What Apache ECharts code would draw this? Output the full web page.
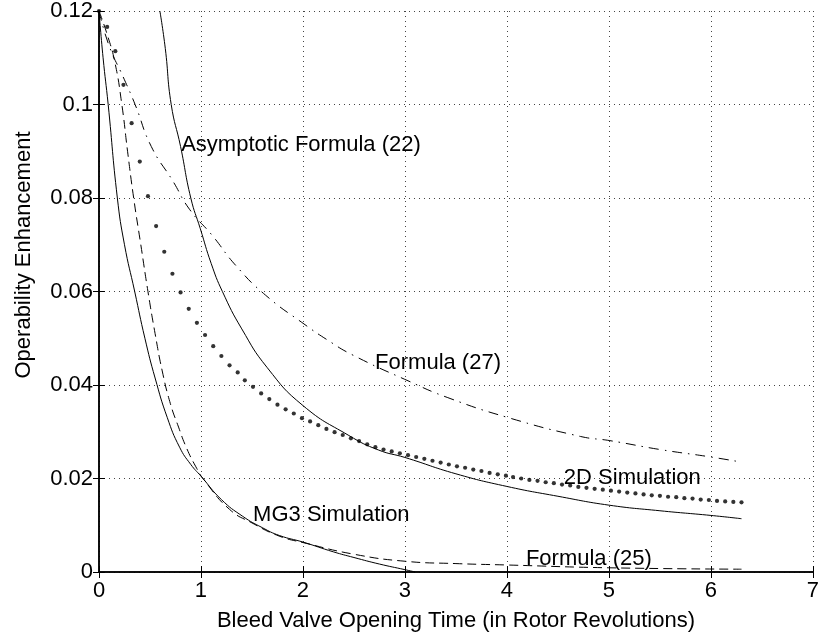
<!DOCTYPE html>
<html>
<head>
<meta charset="utf-8">
<script src="https://cdn.jsdelivr.net/npm/echarts@6/dist/echarts.min.js"></script>
<style>
html,body{margin:0;padding:0;background:#fff;}
#chart{width:822px;height:637px;}
</style>
</head>
<body>
<div id="chart"></div>
<script>
// ---- data ----
const xTicks = [0, 1, 2, 3, 4, 5, 6, 7];
const yTicks = [0, 0.02, 0.04, 0.06, 0.08, 0.1, 0.12];

// MG3 Simulation (solid)
const mg3X = [0, 0.04, 0.09, 0.18, 0.25, 0.35, 0.45, 0.55, 0.67, 0.79, 0.9, 1.0, 1.2, 1.41, 1.6, 1.77, 2.0, 2.3, 2.5, 2.75, 3.0, 3.1];
const mg3Y = [0.12, 0.11, 0.1, 0.08, 0.07, 0.06, 0.05, 0.0415, 0.033, 0.0267, 0.023, 0.0205, 0.0155, 0.0119, 0.0095, 0.0078, 0.0064, 0.0043, 0.0031, 0.0017, 0.0005, 0];

// Formula (25) (dashed)
const f25X = [0, 0.08, 0.156, 0.224, 0.28, 0.34, 0.41, 0.48, 0.55, 0.62, 0.7, 0.78, 0.855, 0.95, 1.03, 1.28, 1.5, 1.765, 2.0, 2.5, 3.0, 3.5, 4.0, 5.0, 6.3];
const f25Y = [0.12, 0.115, 0.109, 0.1, 0.09, 0.08, 0.07, 0.06, 0.051, 0.043, 0.036, 0.031, 0.0267, 0.0225, 0.0197, 0.0134, 0.0105, 0.0077, 0.0063, 0.0038, 0.0023, 0.0018, 0.0015, 0.0009, 0.0006];

// 2D Simulation (dots)
const sim2dX = [0.00,0.08,0.16,0.24,0.32,0.40,0.48,0.56,0.64,0.72,0.80,0.88,0.96,1.04,1.12,1.20,1.28,1.36,1.43,1.51,1.59,1.67,1.75,1.83,1.91,1.99,2.07,2.15,2.23,2.31,2.39,2.47,2.55,2.63,2.71,2.79,2.87,2.95,3.03,3.11,3.19,3.27,3.35,3.43,3.51,3.59,3.67,3.75,3.83,3.91,3.99,4.06,4.14,4.22,4.30,4.38,4.46,4.54,4.62,4.70,4.78,4.86,4.94,5.02,5.10,5.18,5.26,5.34,5.42,5.50,5.58,5.66,5.74,5.82,5.90,5.98,6.06,6.14,6.22,6.30];
const sim2dY = [0.12,0.1166,0.1114,0.1042,0.096,0.0878,0.0804,0.074,0.0685,0.0638,0.0598,0.0563,0.0533,0.0507,0.0483,0.0462,0.0442,0.0427,0.041,0.0396,0.0382,0.037,0.0358,0.0348,0.0339,0.0329,0.0322,0.0314,0.0306,0.0299,0.0293,0.0286,0.028,0.0273,0.0267,0.0262,0.0258,0.0254,0.0250,0.0246,0.0242,0.0238,0.0234,0.0230,0.0226,0.0223,0.0219,0.0216,0.0212,0.0209,0.0206,0.0203,0.0200,0.0197,0.0195,0.0192,0.0190,0.0187,0.0185,0.0182,0.0180,0.0178,0.0176,0.0174,0.0172,0.0170,0.0168,0.0166,0.0164,0.0163,0.0161,0.0160,0.0158,0.0157,0.0155,0.0154,0.0152,0.0151,0.0150,0.0149];

// Asymptotic Formula (22) (solid)
const asymX = [0.597, 0.65, 0.708, 0.8, 0.9, 0.994, 1.1, 1.21, 1.4, 1.65, 2.0, 2.45, 2.74, 3.0, 3.5, 4.0, 4.5, 5.0, 5.5, 6.0, 6.3];
const asymY = [0.12, 0.112, 0.1, 0.091, 0.08, 0.0734, 0.066, 0.06, 0.052, 0.0437, 0.0356, 0.0292, 0.0261, 0.0245, 0.021, 0.0183, 0.0162, 0.0143, 0.0131, 0.0121, 0.0114];

// Formula (27) (dash-dot)
const f27X = [0, 0.1, 0.237, 0.354, 0.513, 0.725, 0.887, 1.114, 1.34, 1.634, 2.02, 2.235, 2.48, 3.03, 3.42, 4.0, 4.72, 5.01, 5.5, 6.0, 6.3];
const f27Y = [0.12, 0.1125, 0.1059, 0.1, 0.091, 0.0836, 0.0776, 0.0719, 0.0656, 0.0592, 0.0529, 0.0497, 0.0465, 0.0409, 0.0373, 0.0331, 0.029, 0.0281, 0.0262, 0.0246, 0.0235];

// text annotations (left edge, text middle) in data units
const annText = ['Asymptotic Formula (22)', 'Formula (27)', '2D Simulation', 'MG3 Simulation', 'Formula (25)'];
const annX = [0.806, 2.707, 4.558, 1.511, 4.186];
const annY = [0.0914, 0.0448, 0.0201, 0.0123, 0.00276];

const xLabel = 'Bleed Valve Opening Time (in Rotor Revolutions)';
const yLabel = 'Operability Enhancement';

// ---- chart ----
const FONT = "'Liberation Sans', Arial, Helvetica, sans-serif";
const FS = 22;
const zip = (a, b) => a.map((v, i) => [v, b[i]]);

const chart = echarts.init(document.getElementById('chart'), null, {renderer: 'canvas'});

const gridLine = {show: true, lineStyle: {color: '#444', width: 1, type: [1, 4]}};
const axisLineStyle = {show: true, lineStyle: {color: '#000', width: 1.5}};
const tickStyle = {show: true, inside: true, length: 6, lineStyle: {color: '#000', width: 1}};
const curve = {type: 'line', showSymbol: false, smooth: 0.5, clip: true};

const option = {
  animation: false,
  backgroundColor: '#fff',
  grid: {left: 99, right: 5, top: 10, bottom: 61, containLabel: false},
  xAxis: [{
    type: 'value', min: xTicks[0], max: xTicks[xTicks.length - 1], interval: 1,
    axisLine: axisLineStyle, axisTick: tickStyle, splitLine: gridLine,
    axisLabel: {color: '#000', fontSize: FS, fontFamily: FONT, margin: 8},
    name: xLabel, nameLocation: 'middle', nameGap: 38,
    nameTextStyle: {color: '#000', fontSize: FS, fontFamily: FONT}
  }, {
    type: 'value', position: 'top', min: 0, max: 7, interval: 1,
    axisLine: axisLineStyle, axisTick: tickStyle, splitLine: {show: false},
    axisLabel: {show: false}
  }],
  yAxis: [{
    type: 'value', min: yTicks[0], max: yTicks[yTicks.length - 1], interval: 0.02,
    axisLine: axisLineStyle, axisTick: tickStyle, splitLine: gridLine,
    axisLabel: {color: '#000', fontSize: FS, fontFamily: FONT, margin: 6,
      formatter: v => String(+v.toFixed(2))}
  }, {
    type: 'value', position: 'right', min: 0, max: 0.12, interval: 0.02,
    axisLine: axisLineStyle, axisTick: tickStyle, splitLine: {show: false},
    axisLabel: {show: false}
  }],
  series: [
    Object.assign({name: 'MG3 Simulation', data: zip(mg3X, mg3Y),
      lineStyle: {color: '#000', width: 1}}, curve),
    Object.assign({name: 'Formula (25)', data: zip(f25X, f25Y),
      lineStyle: {color: '#000', width: 1, type: [9, 5]}}, curve),
    Object.assign({name: 'Asymptotic Formula (22)', data: zip(asymX, asymY),
      lineStyle: {color: '#000', width: 1}}, curve),
    Object.assign({name: 'Formula (27)', data: zip(f27X, f27Y),
      lineStyle: {color: '#000', width: 1, type: [10, 6, 1.5, 6]}}, curve),
    {name: '2D Simulation', type: 'scatter', data: zip(sim2dX, sim2dY),
     symbol: 'circle', symbolSize: 4.2, itemStyle: {color: '#000'}}
  ]
};
chart.setOption(option);

const texts = annText.map((t, i) => {
  const p = chart.convertToPixel({xAxisIndex: 0, yAxisIndex: 0}, [annX[i], annY[i]]);
  return {type: 'text', x: p[0], y: p[1], z: 100,
    style: {text: t, fill: '#000', font: FS + 'px ' + FONT, align: 'left', verticalAlign: 'middle'}};
});
// y-axis title, placed at the left of the plot
texts.push({type: 'text', x: 24, y: 255, rotation: Math.PI / 2, z: 100,
  style: {text: yLabel, fill: '#000', font: FS + 'px ' + FONT, align: 'center', verticalAlign: 'middle'}});
chart.setOption({graphic: texts});
</script>
</body>
</html>
